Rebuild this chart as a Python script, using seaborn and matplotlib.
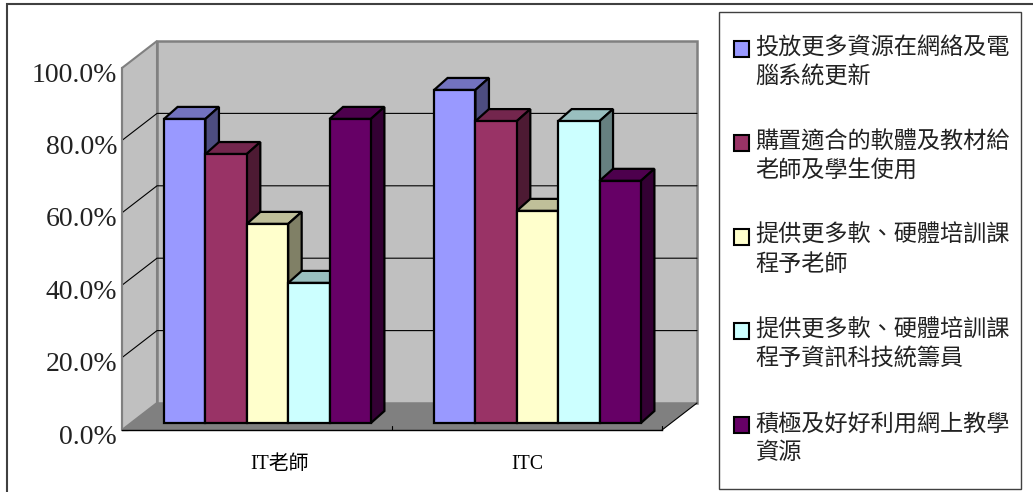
import numpy as np
import pandas as pd
import matplotlib
matplotlib.use("Agg")
import matplotlib.pyplot as plt
import seaborn as sns
from matplotlib.patches import Polygon, Rectangle
from matplotlib.transforms import ScaledTranslation

groups = ["IT老師", "ITC"]
items = [
    "投放更多資源在網絡及電\n腦系統更新",
    "購置適合的軟體及教材給\n老師及學生使用",
    "提供更多軟、硬體培訓課\n程予老師",
    "提供更多軟、硬體培訓課\n程予資訊科技統籌員",
    "積極及好好利用網上教學\n資源",
]
it_teacher = [84.0, 74.3, 55.0, 38.7, 84.0]
itc = [92.0, 83.4, 58.6, 83.4, 66.9]
colors = ["#9999FF", "#993366", "#FFFFCC", "#CCFFFF", "#660066"]
y_ticks = [0, 20, 40, 60, 80, 100]

W, H = 1033, 492
SERIF = ["Liberation Serif", "Noto Sans CJK TC", "DejaVu Sans"]
CJK = ["Noto Sans CJK TC", "DejaVu Sans"]

sns.set_theme(style="white")
plt.rcParams["font.family"] = SERIF

df = pd.DataFrame({
    "group": np.repeat(groups, len(items)),
    "item": items * len(groups),
    "value": it_teacher + itc,
})


def px_rect(left, top, right, bottom):
    return [left / W, 1 - bottom / H, (right - left) / W, (bottom - top) / H]


fig = plt.figure(figsize=(W / 100, H / 100), dpi=100)
fig.patch.set_facecolor("white")

# front plane of the box carries the ticks, bars sit a little deeper
ax = fig.add_axes(px_rect(122, 68, 662, 430))
ax_bars = fig.add_axes(px_rect(132.5, 61, 672.5, 423), zorder=2)
ax_bars.patch.set_visible(False)

sns.barplot(data=df, x="group", y="value", hue="item", palette=colors, width=0.766,
            gap=0, saturation=1, edgecolor="black", linewidth=1.6, ax=ax_bars)

for a in (ax, ax_bars):
    a.set_xlim(-0.5, 1.5)
    a.set_ylim(0, 100)
ax_bars.set_axis_off()

SX = 2 / 540
SY = 100 / 362


def shifted(x, y, dx_px, dy_px):
    return (x + dx_px * SX, y + dy_px * SY)


def poly(a, pts, **kw):
    a.add_patch(Polygon(pts, closed=True, clip_on=False, **kw))


# walls and floor
BACK = (35, 27)
x0, x1 = ax.get_xlim()
ax.patch.set_visible(False)
poly(ax, [(x0, 0), shifted(x0, 0, *BACK), shifted(x0, 100, *BACK), (x0, 100)],
     facecolor="#C0C0C0", edgecolor="#808080", linewidth=1.5, zorder=1)
poly(ax, [shifted(x0, 0, *BACK), shifted(x1, 0, *BACK), shifted(x1, 100, *BACK), shifted(x0, 100, *BACK)],
     facecolor="#C0C0C0", edgecolor="#808080", linewidth=1.8, zorder=1)
poly(ax, [(x0, 0), (x1, 0), shifted(x1, 0, *BACK), shifted(x0, 0, *BACK)],
     facecolor="#808080", edgecolor="none", zorder=1.5)
p0, p1 = (x1, 0), shifted(x1, 0, *BACK)
ax.plot([p0[0], p1[0]], [p0[1], p1[1]], color="black", lw=0.8, clip_on=False, zorder=1.6)

for v in y_ticks[1:-1]:
    a0 = (x0, v)
    a1 = shifted(x0, v, *BACK)
    a2 = shifted(x1, v, *BACK)
    ax.plot([a0[0], a1[0], a2[0]], [a0[1], a1[1], a2[1]], color="black", lw=0.8, clip_on=False, zorder=2)

# 3d sides of the bars, left to right so each one covers the previous side
DX, DY = 13.5, 12
bars = [b for c in ax_bars.containers for b in c]
bars.sort(key=lambda b: b.get_x())
for i, b in enumerate(bars):
    bx, bw, bh = b.get_x(), b.get_width(), b.get_height()
    rgb = np.array(matplotlib.colors.to_rgb(b.get_facecolor()))
    poly(ax_bars, [(bx, bh), (bx + bw, bh), shifted(bx + bw, bh, DX, DY), shifted(bx, bh, DX, DY)],
         facecolor=rgb * 0.75, edgecolor="black", linewidth=1.6, joinstyle="miter", zorder=3 + i)
    poly(ax_bars, [(bx + bw, 0), shifted(bx + bw, 0, DX, DY), shifted(bx + bw, bh, DX, DY), (bx + bw, bh)],
         facecolor=rgb * 0.5, edgecolor="black", linewidth=1.6, joinstyle="miter", zorder=3 + i)
    b.set_zorder(3.5 + i)
    b.set_clip_on(False)

# axis
ax.set_xlabel("")
ax.set_ylabel("")
ax.set_xticks([0, 1])
ax.set_xticklabels(groups, fontsize=14.3, family=SERIF, color="black")
ax.set_yticks(y_ticks)
ax.set_yticklabels([f"{v:.1f}%" for v in y_ticks], fontsize=20, color="#222222")
ax.tick_params(axis="y", direction="in", length=4.5, width=0.8, color="black", pad=3.5, left=True)
ax.tick_params(axis="x", length=0, pad=18.2)
for tx in (0.5, 1.5):
    ax.plot([tx, tx], [0, 1.2], color="black", lw=0.8, clip_on=False, zorder=2)
for s in ("top", "right"):
    ax.spines[s].set_visible(False)
ax.spines["left"].set_color("#808080")
ax.spines["left"].set_linewidth(1.5)
ax.spines["bottom"].set_color("black")
ax.spines["bottom"].set_linewidth(1.0)
ax.spines["left"].set_zorder(2)
ax.spines["bottom"].set_zorder(2)
for lab, off in zip(ax.get_xticklabels(), [23, 0]):
    lab.set_transform(lab.get_transform() + ScaledTranslation(off / 100, 0, fig.dpi_scale_trans))
for lab in ax.get_yticklabels():
    lab.set_transform(lab.get_transform() + ScaledTranslation(0, -4 / 100, fig.dpi_scale_trans))

# legend
handles, labels = ax_bars.get_legend_handles_labels()
ax_bars.get_legend().remove()
leg = fig.legend(handles, labels, loc="upper left", bbox_to_anchor=(734 / W, 1 - 36 / H),
                 frameon=False, borderpad=0, borderaxespad=0, handlelength=0.65, handleheight=0.65,
                 handletextpad=0.28, labelspacing=1.8, prop={"family": CJK, "size": 16.7})
for h, t in zip(leg.legend_handles, leg.get_texts()):
    t.set_linespacing(1.35)
    t.set_color("#222222")
    h.set_y(h.get_y() + 10.2)
    h.set_linewidth(1.5)

# outer frames
fig.add_artist(Rectangle((719 / W, 1 - 489 / H), 302 / W, 477 / H, transform=fig.transFigure,
                         facecolor="none", edgecolor="#404040", linewidth=1.0))
fig.add_artist(Rectangle((7 / W, -0.05), 1.05, 1.05 - 4 / H, transform=fig.transFigure,
                         facecolor="none", edgecolor="#404040", linewidth=1.5))

fig.savefig("out.png", dpi=100)
